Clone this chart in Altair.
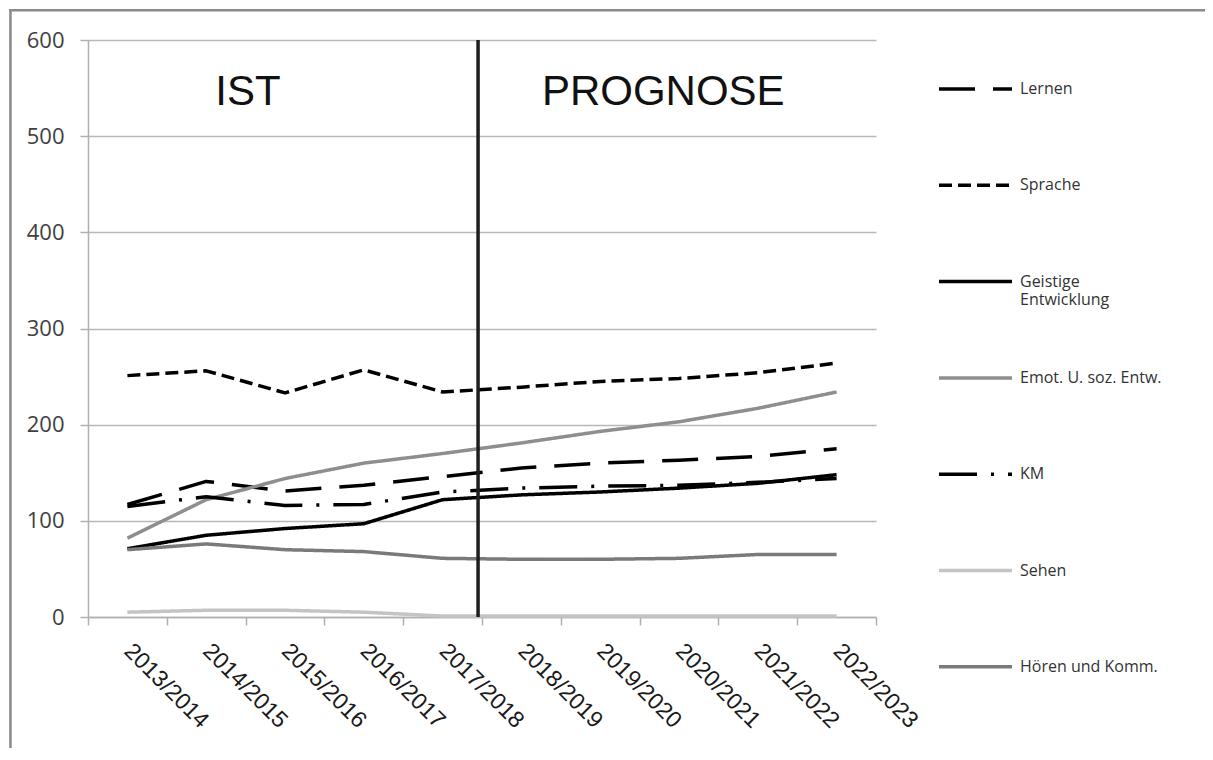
import altair as alt
import pandas as pd

seasons = ["2013/2014", "2014/2015", "2015/2016", "2016/2017", "2017/2018",
           "2018/2019", "2019/2020", "2020/2021", "2021/2022", "2022/2023"]
series_names = ["Lernen", "Sprache", "Geistige Entwicklung", "Emot. U. soz. Entw.",
                "KM", "Sehen", "Hören und Komm."]

lernen = [117, 141, 131, 137, 146, 155, 160, 163, 167, 175]
sprache = [251, 256, 233, 257, 234, 239, 245, 248, 254, 264]
geistige = [71, 85, 92, 97, 122, 127, 130, 134, 139, 148]
emot = [82, 122, 144, 160, 170, 181, 193, 203, 217, 234]
km = [115, 125, 116, 117, 130, 134, 136, 137, 140, 144]
sehen = [5, 7, 7, 5, 1, 1, 1, 1, 1, 1]
hoeren = [70, 76, 70, 68, 61, 60, 60, 61, 65, 65]

y_ticks = [0, 100, 200, 300, 400, 500, 600]
phase_labels = ["IST", "PROGNOSE"]
boundary_season = "2017/2018"

colors = ["#000000", "#000000", "#000000", "#8e8e8e", "#000000", "#c4c4c4", "#7a7a7a"]
dashes = [[36, 18], [13, 6], [1, 0], [1, 0], [38, 14, 3, 14], [1, 0], [1, 0]]
widths = [3.5, 3.5, 3, 4.5, 4.5, 4, 4]

values = [lernen, sprache, geistige, emot, km, sehen, hoeren]
rows = []
for name, vals in zip(series_names, values):
    for s, v in zip(seasons, vals):
        rows.append({"season": s, "series": name, "value": v})
df = pd.DataFrame(rows)

xscale = alt.Scale(type="band", domain=seasons, paddingInner=0, paddingOuter=0)

legend = alt.Legend(
    title=None, orient="none", legendX=849, legendY=10.5,
    symbolType="stroke", symbolSize=5329, padding=0,
    labelFont="Open Sans", labelFontSize=16, labelColor="#333333",
    rowPadding=31.3, labelOffset=6, labelLimit=300,
    labelExpr="datum.label == 'Geistige Entwicklung' ? ['Geistige', 'Entwicklung'] : [datum.label, '']",
)

lines = alt.Chart(df).mark_line(strokeCap="butt", strokeJoin="round").encode(
    x=alt.X("season:O", scale=xscale, bandPosition=0.5, title=None,
            axis=alt.Axis(tickBand="extent", labelAngle=45, labelAlign="left",
                          labelBaseline="middle", labelPadding=22, grid=False,
                          labelFont="Liberation Sans", labelFontSize=23,
                          labelColor="#1a1a1a")),
    y=alt.Y("value:Q", scale=alt.Scale(domain=[0, 600], nice=False), title=None,
            axis=alt.Axis(values=y_ticks, labelPadding=16, labelFont="Open Sans",
                          labelFontSize=22, labelColor="#404040")),
    color=alt.Color("series:N", scale=alt.Scale(domain=series_names, range=colors), legend=legend),
    strokeDash=alt.StrokeDash("series:N", scale=alt.Scale(domain=series_names, range=dashes), legend=legend),
    strokeWidth=alt.StrokeWidth("series:N", scale=alt.Scale(domain=series_names, range=widths), legend=legend),
    detail="series:N",
)

one = pd.DataFrame({"k": [0]})

rule = alt.Chart(one).mark_rule(color="#1e1e1e", strokeWidth=3.5).encode(
    x=alt.XDatum(boundary_season, type="ordinal", bandPosition=0.95),
    y=alt.YDatum(600),
    y2=alt.Y2Datum(0),
)

ist = alt.Chart(one).mark_text(text=phase_labels[0], font="Liberation Sans", fontSize=42,
                               color="#111111", align="center", baseline="middle").encode(
    x=alt.XDatum("2015/2016", type="ordinal", bandPosition=0.03),
    y=alt.YDatum(546),
)
prog = alt.Chart(one).mark_text(text=phase_labels[1], font="Liberation Sans", fontSize=42,
                                color="#111111", align="center", baseline="middle").encode(
    x=alt.XDatum("2020/2021", type="ordinal", bandPosition=0.3),
    y=alt.YDatum(546),
)

frame_top = alt.Chart(one).mark_rect(color="#8a8a8a", strokeWidth=0).encode(
    x=alt.value(-78.8), x2=alt.value(1117), y=alt.value(-31), y2=alt.value(-28.5)
)
frame_left = alt.Chart(one).mark_rect(color="#8a8a8a", strokeWidth=0).encode(
    x=alt.value(-78.8), x2=alt.value(-76.3), y=alt.value(-31), y2=alt.value(708)
)

chart = alt.layer(frame_top, frame_left, lines, rule, ist, prog).properties(
    width=788, height=577,
    padding={"left": 80, "top": 32, "right": 329, "bottom": 131},
    autosize=alt.AutoSizeParams(type="none"),
).configure_view(stroke=None).configure_axis(
    domainColor="#b0b0b0", domainWidth=1.5, gridColor="#b8b8b8", gridWidth=1.5,
    tickColor="#b0b0b0", tickWidth=1.5, tickSize=8,
)

chart.save("out.html", embed_options={"renderer": "svg", "actions": False})
